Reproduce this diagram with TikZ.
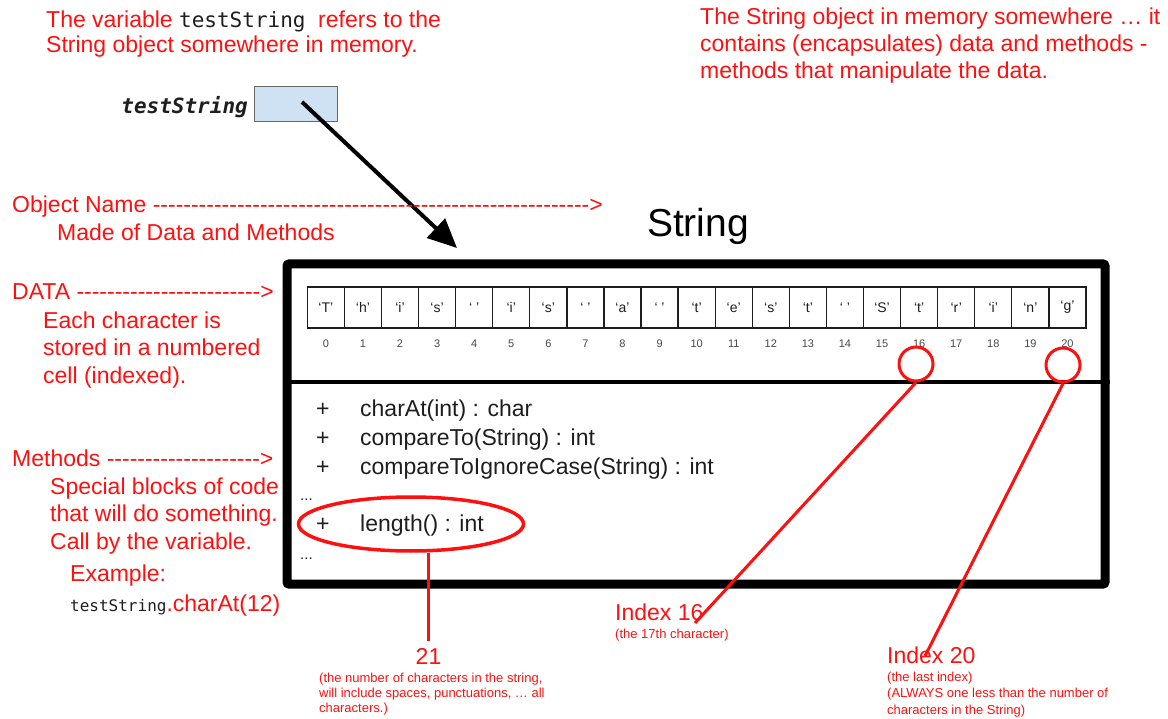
\documentclass[tikz,border=0pt]{standalone}
\usepackage{fontspec}
\setmainfont{Liberation Sans}
\newfontfamily\codefont{DejaVu Sans Mono}
\usetikzlibrary{arrows.meta,shapes.geometric,calc}

\definecolor{annot}{HTML}{FF1010}
\definecolor{ink}{HTML}{1E1E1E}
\definecolor{varfill}{HTML}{CFE2F3}

% font size in points, line spacing equal to size
\newcommand\fs[1]{\fontsize{#1}{#1}\selectfont}
% a run of separate hyphens (kept apart so they never turn into dashes)
\newcount\dashcount
\newcommand\dashrun[1]{\dashcount=#1\relax\loop -{}\advance\dashcount by -1\relax\ifnum\dashcount>0 \repeat}

\tikzset{
  note/.style={text=annot, font=\fs{23}, anchor=base west, inner sep=0},
  smallnote/.style={text=annot, font=\fs{13}, anchor=base west, inner sep=0},
  cell/.style={draw=ink, line width=1.3pt, minimum width=37.08pt, minimum height=41pt,
               inner sep=0, font=\fs{14}, text=ink},
  idx/.style={font=\fs{11}, text=black!72, inner sep=0},
  method/.style={font=\fs{23}, text=ink, anchor=base west, inner sep=0},
  redline/.style={draw=annot, line width=3pt},
  ring/.style={draw=annot, line width=3pt, circle, minimum size=34pt, inner sep=0},
}

\begin{document}
\begin{tikzpicture}[x=1pt, y=-1pt]
\useasboundingbox (0,0) rectangle (1168,719);

% ---- notes at the top ----
\node[note] (top1) at (46,28) {The variable {\codefont\fs{21}\color{ink}testString }refers to the};
\node[note] (top2) at (46,53) {String object somewhere in memory.};

\node[note] (obj1) at (700,25) {The String object in memory somewhere … it};
\node[note] (obj2) at (700,52) {contains (encapsulates) data and methods -};
\node[note] (obj3) at (700,79) {methods that manipulate the data.};

% ---- the variable and its reference ----
\node[draw=black!60, fill=varfill, line width=1.2pt, minimum width=83pt,
      minimum height=35pt, inner sep=0] (tsbox) at (296,104) {};
\node[font=\codefont\fs{21}\bfseries\itshape, text=ink, anchor=base east, inner sep=0]
      (tslabel) at (248,114) {testString};

% ---- the String object ----
\node[font=\fs{39}, anchor=base, inner sep=0] (title) at (698,237) {String};
\node[draw, line width=9pt, minimum width=818pt, minimum height=320pt,
      rounded corners=2pt, inner sep=0] (obj) at (696,424) {};
\coordinate (divy) at (0,382.5);
\draw[line width=4pt] (obj.west |- divy) -- (obj.east |- divy);

\coordinate (ref) at (302,102);
\coordinate (tip) at (457,248);
\draw[line width=4pt, -{Triangle[length=29pt,width=26pt]}] (ref) -- (tip);

% data cells with their indices
\foreach \ch [count=\i from 0] in {‘T’,‘h’,‘i’,‘s’,‘ ’,‘i’,‘s’,‘ ’,‘a’,‘ ’,‘t’,‘e’,‘s’,‘t’,‘ ’,‘S’,‘t’,‘r’,‘i’,‘n’,‘g’} {
  \node[cell] (c\i) at ({307.3+37.08*(\i+0.5)},307.5) {\ch};
  \node[idx] (n\i) at ($(c\i.south)+(0,15)$) {\i};
}

% methods
\foreach \y/\m [count=\k] in {417/charAt(int) : char, 445.5/compareTo(String) : int, 474/compareToIgnoreCase(String) : int} {
  \node[method] (plus\k) at (316,\y) {+};
  \node[method] (m\k) at (360,\y) {\m};
}
\node[method, font=\fs{15}] (dots1) at (300,500) {...};
\node[method] (plus4) at (316,531) {+};
\node[method] (m4) at (360,531) {length() : int};
\node[method, font=\fs{15}] (dots2) at (300,559) {...};

% ---- notes on the left ----
\node[note] (lname) at (12,213) {Object Name \dashrun{57}>};
\node[note] (lname2) at (57,241) {Made of Data and Methods};
\node[note] (ldata) at (12,300) {DATA \dashrun{24}>};
\node[note] (ldata1) at (43,329) {Each character is};
\node[note] (ldata2) at (43,356) {stored in a numbered};
\node[note] (ldata3) at (43,384) {cell (indexed).};
\node[note] (lmeth) at (12,466) {Methods \dashrun{20}>};
\node[note] (lmeth1) at (50,494) {Special blocks of code};
\node[note] (lmeth2) at (50,521) {that will do something.};
\node[note] (lmeth3) at (50,549) {Call by the variable.};
\node[note] (lmeth4) at (70,581) {Example:};
\node[note] (lmeth5) at (70,611) {{\codefont\fs{16}\color{ink}testString}.charAt(12)};

% ---- highlights and their explanations ----
\node[draw=annot, line width=3.5pt, ellipse, minimum width=225pt, minimum height=54pt,
      inner sep=0] (len) at (411,524) {};
\node[ring] (o16) at (916,364) {};
\node[ring] (o20) at (1063,365) {};

\node[text=annot, font=\fs{23}, anchor=base, inner sep=0] (n21) at (428.5,664) {21};
\node[smallnote] (s21a) at (319,682) {(the number of characters in the string,};
\node[smallnote] (s21b) at (319,697) {will include spaces, punctuations, … all};
\node[smallnote] (s21c) at (319,712) {characters.)};

\node[note] (i16) at (615,620) {Index 16};
\node[smallnote] (i16a) at (615,638) {(the 17th character)};

\node[note] (i20) at (887,663) {Index 20};
\node[smallnote] (i20a) at (887,681) {(the last index)};
\node[smallnote] (i20b) at (887,697.5) {(ALWAYS one less than the number of};
\node[smallnote] (i20c) at (887,714) {characters in the String)};

\coordinate (e16) at (695,623);
\coordinate (e20) at (925,656);
\draw[redline] (n21.north |- len.south) -- ($(n21.north)+(0,-7)$);
\draw[redline] (o16.south) -- (e16);
\draw[redline] (o20.south) -- (e20);
\end{tikzpicture}
\end{document}
